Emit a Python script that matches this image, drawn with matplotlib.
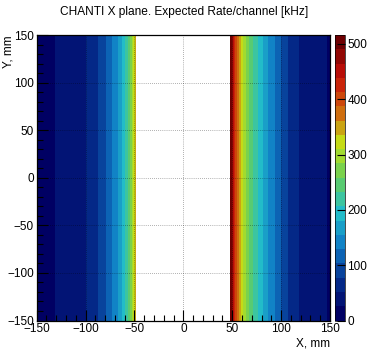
import numpy as np
import matplotlib
matplotlib.use("Agg")
import matplotlib.pyplot as plt
from matplotlib.colors import LinearSegmentedColormap, ListedColormap, BoundaryNorm
from matplotlib.ticker import MultipleLocator

plt.rcParams['font.family'] = ['Liberation Sans', 'DejaVu Sans']

# ---- data ----
left_edges = [-150, -131, -100, -87, -79, -73, -67, -63, -59.5, -57, -54.5, -52.5, -51, -49.5, -48]
left_rate = [13, 39, 65, 90, 116, 142, 168, 194, 219, 245, 271, 297, 323, 348]
right_edges = [48, 49.5, 50.8, 52, 53.3, 54.8, 56.5, 58.5, 61, 64, 67.5, 71.5, 76, 81, 87, 94, 100, 107, 118, 147, 150]
right_rate = [503, 477, 452, 426, 400, 374, 348, 323, 297, 271, 245, 219, 194, 168, 142, 116, 90, 65, 39, 13]
y_edges = [-150, 150]
z_max = 516
n_levels = 20
cbar_ticks = [0, 100, 200, 300, 400, 500]
title = "CHANTI X plane. Expected Rate/channel [kHz]"

# ROOT kRainBow palette
red = [0, 5, 15, 35, 102, 196, 208, 199, 110]
green = [0, 48, 124, 192, 206, 226, 97, 16, 0]
blue = [99, 142, 198, 201, 90, 22, 13, 8, 2]
cols = [(r / 255, g / 255, b / 255) for r, g, b in zip(red, green, blue)]
base = LinearSegmentedColormap.from_list("rainbow55", cols, N=512)
cmap = ListedColormap([base(k / (n_levels - 1)) for k in range(n_levels)])
norm = BoundaryNorm(np.linspace(0, z_max, n_levels + 1), n_levels)

W, H = 368, 358
fig = plt.figure(figsize=(W / 100, H / 100), dpi=100)
ax_w, ax_h = 330 - 36.7, 320.5 - 35
ax = fig.add_axes([36.7 / W, 1 - 320.5 / H, ax_w / W, ax_h / H])
cax = fig.add_axes([335 / W, 1 - 320.5 / H, 9.5 / W, ax_h / H])

m = ax.pcolormesh(left_edges, y_edges, np.array(left_rate)[None, :], cmap=cmap, norm=norm)
ax.pcolormesh(right_edges, y_edges, np.array(right_rate)[None, :], cmap=cmap, norm=norm)

ax.set_xlim(-150, 150)
ax.set_ylim(-150, 150)
ax.xaxis.set_major_locator(MultipleLocator(50))
ax.yaxis.set_major_locator(MultipleLocator(50))
ax.xaxis.set_minor_locator(MultipleLocator(10))
ax.yaxis.set_minor_locator(MultipleLocator(10))
ax.tick_params(which='both', direction='in', top=False, right=False, labelsize=8.5, pad=2)
ax.tick_params(which='major', length=8, width=0.8)
ax.tick_params(which='minor', length=4, width=0.8)
ax.grid(True, which='major', linestyle=(0, (1, 2)), color='black', linewidth=0.5, alpha=0.6)
ax.set_axisbelow(False)
for s in ax.spines.values():
    s.set_linewidth(0.9)

ax.set_xlabel("X, mm", loc='right', fontsize=8.5)
ax.xaxis.set_label_coords(1.0, -22.5 / ax_h)
ax.xaxis.label.set_va('center')
ax.set_ylabel("Y, mm", loc='top', fontsize=8.5)
ax.yaxis.set_label_coords(-(36.7 - 9) / ax_w, 1.0)
ax.yaxis.label.set_va('center')
fig.text(0.5, 1 - 12 / H, title, ha='center', va='center', fontsize=8.6)

cb = fig.colorbar(m, cax=cax, ticks=cbar_ticks)
cb.outline.set_linewidth(0.5)
cax.tick_params(direction='in', length=6, width=0.8, labelsize=8.5, pad=2)
cax.minorticks_off()

fig.savefig("out.png", dpi=100)
